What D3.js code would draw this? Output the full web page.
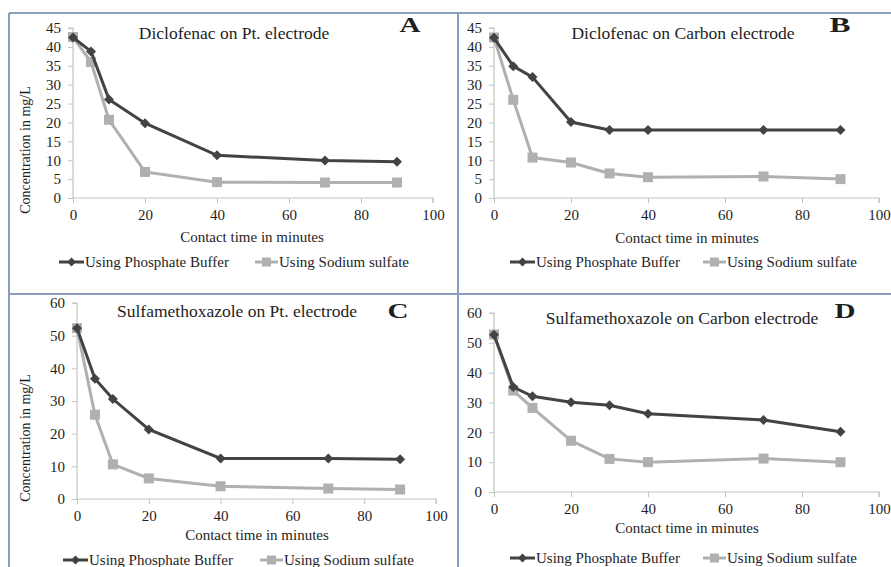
<!DOCTYPE html>
<html>
<head>
<meta charset="utf-8">
<script src="https://cdn.jsdelivr.net/npm/d3@7"></script>
<style>
  body { margin: 0; background: #fff; }
  svg { display: block; font-family: "Liberation Serif", "Times New Roman", serif; }
</style>
</head>
<body>
<div id="chart"></div>
<script>
// Datos
const tiempoA = [0, 5, 10, 20, 40, 70, 90];
const fosfatoA = [42.5, 38.8, 26.1, 19.8, 11.3, 9.9, 9.6];
const sulfatoA = [42.6, 36.0, 20.7, 6.9, 4.2, 4.1, 4.1];

const tiempoB = [0, 5, 10, 20, 30, 40, 70, 90];
const fosfatoB = [42.4, 34.9, 32.0, 20.1, 18.0, 18.0, 18.0, 18.0];
const sulfatoB = [42.5, 26.0, 10.7, 9.4, 6.5, 5.5, 5.7, 5.0];

const tiempoC = [0, 5, 10, 20, 40, 70, 90];
const fosfatoC = [52.3, 36.8, 30.6, 21.3, 12.4, 12.4, 12.2];
const sulfatoC = [52.3, 25.8, 10.6, 6.3, 3.9, 3.2, 2.9];

const tiempoD = [0, 5, 10, 20, 30, 40, 70, 90];
const fosfatoD = [52.7, 35.2, 32.1, 30.1, 29.1, 26.2, 24.1, 20.2];
const sulfatoD = [52.8, 34.0, 28.2, 17.2, 11.1, 10.0, 11.2, 10.0];

const ticksX = [0, 20, 40, 60, 80, 100];
const ticksY45 = [0, 5, 10, 15, 20, 25, 30, 35, 40, 45];
const ticksY60 = [0, 10, 20, 30, 40, 50, 60];

const titulos = ["Diclofenac  on Pt. electrode", "Diclofenac  on Carbon electrode",
                 "Sulfamethoxazole  on Pt. electrode", "Sulfamethoxazole  on Carbon electrode"];
const letras = ["A", "B", "C", "D"];
const series = ["Using Phosphate Buffer", "Using Sodium sulfate"];

const colorFosfato = "#434343";
const colorSulfato = "#b0b0b0";
const fuente = "'Liberation Serif', 'Times New Roman', serif";

const width = 891, height = 567;
const svg = d3.select("#chart").append("svg")
    .attr("width", width)
    .attr("height", height);

// Marcos de los paneles
const marco = svg.append("g")
    .style("stroke", "#8a9dba")
    .style("stroke-width", 2)
    .style("fill", "none");
marco.append("line").attr("x1", 9).attr("y1", 13).attr("x2", 891).attr("y2", 13);
marco.append("line").attr("x1", 9).attr("y1", 13).attr("x2", 9).attr("y2", 567);
marco.append("line").attr("x1", 458).attr("y1", 13).attr("x2", 458).attr("y2", 567);
marco.append("line").attr("x1", 9).attr("y1", 294).attr("x2", 891).attr("y2", 294);

const paneles = [
    { t: tiempoA, f: fosfatoA, s: sulfatoA, ymax: 45, ticksY: ticksY45,
      x0: 73, x1: 433, y0: 198, y1: 28, titulo: [234, 39], letra: [410, 32],
      ejeX: [252, 242], leyenda: 262, ley1: 59, ley2: 255, ejeY: [25, 150] },
    { t: tiempoB, f: fosfatoB, s: sulfatoB, ymax: 45, ticksY: ticksY45,
      x0: 494, x1: 879, y0: 198, y1: 28, titulo: [683, 39], letra: [840, 32],
      ejeX: [687, 243], leyenda: 262, ley1: 510, ley2: 703, ejeY: null },
    { t: tiempoC, f: fosfatoC, s: sulfatoC, ymax: 60, ticksY: ticksY60,
      x0: 77, x1: 436, y0: 499, y1: 303, titulo: [237, 317], letra: [398, 318],
      ejeX: [257, 540], leyenda: 560, ley1: 63, ley2: 260, ejeY: [25, 438] },
    { t: tiempoD, f: fosfatoD, s: sulfatoD, ymax: 60, ticksY: ticksY60,
      x0: 494, x1: 879, y0: 492, y1: 313, titulo: [682, 324], letra: [845, 318],
      ejeX: [687, 533], leyenda: 558, ley1: 510, ley2: 703, ejeY: null }
];

paneles.forEach((p, i) => dibujarPanel(p, i));

function diamante(g, x, y, r) {
    g.append("path")
        .attr("d", `M${x},${y - r}L${x + r},${y}L${x},${y + r}L${x - r},${y}Z`)
        .style("fill", colorFosfato);
}

function cuadrado(g, x, y, r) {
    g.append("rect")
        .attr("x", x - r).attr("y", y - r)
        .attr("width", 2 * r).attr("height", 2 * r)
        .style("fill", colorSulfato);
}

function dibujarPanel(p, i) {
    const x = d3.scaleLinear().domain([0, 100]).range([p.x0, p.x1]);
    const y = d3.scaleLinear().domain([0, p.ymax]).range([p.y0, p.y1]);
    const g = svg.append("g");

    // Ejes
    const ejeX = g.append("g")
        .attr("transform", `translate(0,${p.y0})`)
        .call(d3.axisBottom(x).tickValues(ticksX).tickSize(5).tickPadding(6));
    const ejeY = g.append("g")
        .attr("transform", `translate(${p.x0},0)`)
        .call(d3.axisLeft(y).tickValues(p.ticksY).tickSize(5).tickPadding(7));
    [ejeX, ejeY].forEach(e => {
        e.attr("font-family", fuente).attr("font-size", 15);
        e.select(".domain").style("stroke", "#c4c4c4").style("stroke-width", 1.2);
        e.selectAll(".tick line").style("stroke", "#c4c4c4");
        e.selectAll("text").style("fill", "#1e1e1e");
    });
    ejeY.select(".domain").attr("d", `M-5,${y(p.ymax)}H0V${p.y0}`);
    ejeX.select(".domain").attr("d", `M${p.x0},0H${p.x1}V5`);

    // Líneas
    const linea = (vals) => d3.line()
        .x((d, k) => x(p.t[k]))
        .y(d => y(d))(vals);

    g.append("path").attr("d", linea(p.s))
        .style("fill", "none").style("stroke", colorSulfato).style("stroke-width", 3);
    p.s.forEach((v, k) => cuadrado(g, x(p.t[k]), y(v), 5));

    g.append("path").attr("d", linea(p.f))
        .style("fill", "none").style("stroke", colorFosfato).style("stroke-width", 3);
    p.f.forEach((v, k) => diamante(g, x(p.t[k]), y(v), 5));

    // Títulos
    g.append("text")
        .attr("x", p.titulo[0]).attr("y", p.titulo[1])
        .attr("text-anchor", "middle")
        .style("font-size", "17.5px").style("fill", "#1e1e1e")
        .text(titulos[i]);
    g.append("text")
        .attr("x", p.letra[0]).attr("y", p.letra[1])
        .attr("text-anchor", "middle")
        .attr("textLength", 21).attr("lengthAdjust", "spacingAndGlyphs")
        .style("font-size", "20px").style("font-weight", "bold").style("fill", "#1e1e1e")
        .text(letras[i]);
    g.append("text")
        .attr("x", p.ejeX[0]).attr("y", p.ejeX[1])
        .attr("text-anchor", "middle")
        .style("font-size", "15px").style("fill", "#1e1e1e")
        .text("Contact time in minutes");
    if (p.ejeY) {
        g.append("text")
            .attr("transform", `translate(${p.ejeY[0]},${p.ejeY[1]}) rotate(-90)`)
            .attr("text-anchor", "middle")
            .attr("dy", "0.35em")
            .style("font-size", "14px").style("fill", "#1e1e1e")
            .text("Concentration in mg/L");
    }

    // Leyenda
    const ly = p.leyenda;
    g.append("line").attr("x1", p.ley1).attr("x2", p.ley1 + 25).attr("y1", ly).attr("y2", ly)
        .style("stroke", colorFosfato).style("stroke-width", 3);
    diamante(g, p.ley1 + 12.5, ly, 4.5);
    g.append("text").attr("x", p.ley1 + 26).attr("y", ly).attr("dy", "0.35em")
        .style("font-size", "15px").style("fill", "#1e1e1e").text(series[0]);
    g.append("line").attr("x1", p.ley2).attr("x2", p.ley2 + 23).attr("y1", ly).attr("y2", ly)
        .style("stroke", colorSulfato).style("stroke-width", 3);
    cuadrado(g, p.ley2 + 11.5, ly, 4.5);
    g.append("text").attr("x", p.ley2 + 24).attr("y", ly).attr("dy", "0.35em")
        .style("font-size", "15px").style("fill", "#1e1e1e").text(series[1]);
}
</script>
</body>
</html>
